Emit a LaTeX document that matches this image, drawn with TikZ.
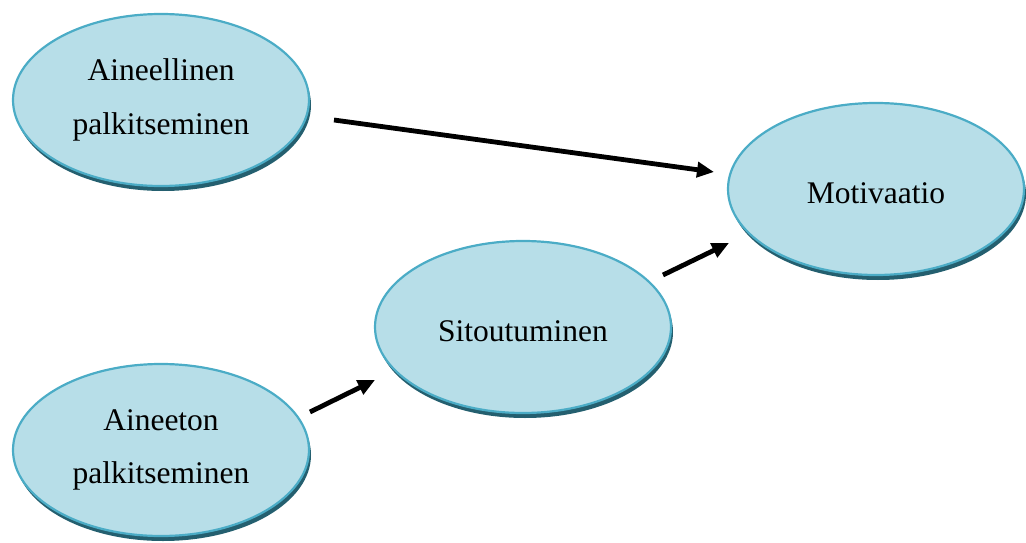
\documentclass[tikz,border=0pt]{standalone}
\usepackage{fontspec}
\setmainfont{Liberation Serif}
\usetikzlibrary{shapes.geometric,arrows.meta,shadows}
\definecolor{ovalfill}{HTML}{B7DEE8}
\definecolor{ovalline}{HTML}{4BACC6}
\definecolor{ovalshade}{HTML}{245F6F}
% lower a single-line label without changing its reported size
\newcommand{\lowlabel}[1]{\raisebox{-4pt}[\height][\depth]{#1}}
\begin{document}
\begin{tikzpicture}[x=1pt,y=-1pt,
  oval/.style={ellipse, draw=ovalline, line width=2.2pt, fill=ovalfill,
    minimum width=296pt, minimum height=172pt, inner sep=0pt,
    align=center, font=\fontsize{31.5}{53.5}\selectfont,
    drop shadow={shadow xshift=2pt, shadow yshift=-5pt, fill=ovalshade, opacity=1}},
  flow/.style={line width=4.8pt, -{Triangle[length=17pt,width=15pt]}}]
  \useasboundingbox (0,0) rectangle (1026,543);
  % four concepts
  \node[oval] (aine) at (161,100) {Aineellinen\\palkitseminen};
  \node[oval] (aton) at (161,450) {Aineeton\\palkitseminen};
  \node[oval] (sito) at (523,327) {\lowlabel{Sitoutuminen}};
  \node[oval] (moti) at (876,189) {\lowlabel{Motivaatio}};
  % arrow end points, set off from the ovals
  \coordinate (p1) at (334,120);
  \coordinate (q1) at (714,172);
  \coordinate (p2) at (310,412);
  \coordinate (q2) at (375,380);
  \coordinate (p3) at (663,275);
  \coordinate (q3) at (729,243);
  \draw[flow] (p1) -- (q1);
  \draw[flow] (p2) -- (q2);
  \draw[flow] (p3) -- (q3);
\end{tikzpicture}
\end{document}
